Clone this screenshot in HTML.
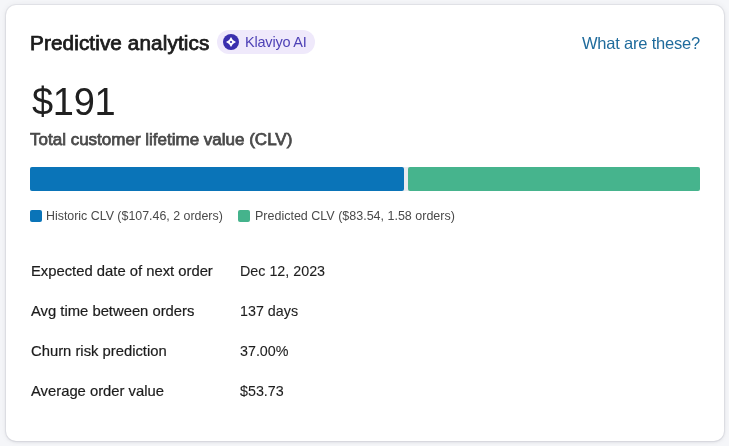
<!DOCTYPE html>
<html><head><meta charset="utf-8">
<style>
*{margin:0;padding:0;box-sizing:border-box}
html,body{width:729px;height:446px;overflow:hidden;background:#f5f6f9;font-family:"Liberation Sans",sans-serif}
.card{position:absolute;left:6px;top:5px;width:718px;height:436px;background:#fff;border-radius:10px;box-shadow:0 0 0 1px rgba(20,25,40,.045),0 1px 3px rgba(20,25,40,.09),0 0 7px rgba(20,25,40,.07)}
.abs{position:absolute;white-space:nowrap;-webkit-font-smoothing:antialiased;will-change:transform}
#title{left:30px;top:31.5px;font-size:19.5px;-webkit-text-stroke:0.75px #1c1c1c;color:#1c1c1c;letter-spacing:0.1px;transform:scaleX(1.062);transform-origin:0 0}
#pill{left:217px;top:30px;width:98px;height:24px;border-radius:12px;background:#efe9fb}
#icon{position:absolute;left:6px;top:4px;width:16px;height:16px}
#pilltxt{position:absolute;left:28px;top:4px;font-size:14.5px;letter-spacing:-0.2px;color:#4e41b6}
#what{left:582px;top:34px;font-size:16.5px;letter-spacing:-0.2px;color:#1f6b9c}
#amount{left:32px;top:81px;font-size:38px;letter-spacing:-0.3px;color:#202020}
#clv{left:30px;top:130px;font-size:17px;-webkit-text-stroke:0.75px #4a4a4a;color:#4a4a4a}
#track{left:30px;top:167px;width:670px;height:24px;background:#eaebee;border-radius:2px}
#bar1{left:30px;top:167px;width:374px;height:24px;background:#0a74b8;border-radius:2px}
#bar2{left:408px;top:167px;width:292px;height:24px;background:#46b48d;border-radius:2px}
#sq1{left:30px;top:210px;width:12px;height:12px;background:#0a74b8;border-radius:2px}
#leg1{left:46px;top:209px;font-size:12.4px;color:#4a4a4a}
#sq2{left:238px;top:210px;width:12px;height:12px;background:#45b38c;border-radius:2px}
#leg2{left:255px;top:209px;font-size:12.5px;color:#4a4a4a}
.lab{left:31px;font-size:14.8px;color:#1c1c1c;-webkit-text-stroke:0.2px #1c1c1c}
.val{left:240px;font-size:14.3px;color:#1f1f1f;-webkit-text-stroke:0.1px #1f1f1f}
</style></head><body>
<div class="card"></div>
<div class="abs" id="title">Predictive analytics</div>
<div class="abs" id="pill">
  <svg id="icon" viewBox="0 0 16 16"><circle cx="8" cy="8" r="8" fill="#3a2fae"/><path d="M8 3 Q9.3 6.7 13 8 Q9.3 9.3 8 13 Q6.7 9.3 3 8 Q6.7 6.7 8 3Z" fill="#fff"/><circle cx="8" cy="8" r="1.1" fill="#3a2fae"/></svg>
  <span id="pilltxt">Klaviyo AI</span>
</div>
<div class="abs" id="what">What are these?</div>
<div class="abs" id="amount">$191</div>
<div class="abs" id="clv">Total customer lifetime value (CLV)</div>
<div class="abs" id="track"></div>
<div class="abs" id="bar1"></div>
<div class="abs" id="bar2"></div>
<div class="abs" id="sq1"></div>
<div class="abs" id="leg1">Historic CLV ($107.46, 2 orders)</div>
<div class="abs" id="sq2"></div>
<div class="abs" id="leg2">Predicted CLV ($83.54, 1.58 orders)</div>
<div class="abs lab" id="l1" style="top:263px">Expected date of next order</div>
<div class="abs val" id="v1" style="top:263px">Dec 12, 2023</div>
<div class="abs lab" id="l2" style="top:303px">Avg time between orders</div>
<div class="abs val" id="v2" style="top:303px">137 days</div>
<div class="abs lab" id="l3" style="top:343px">Churn risk prediction</div>
<div class="abs val" id="v3" style="top:343px">37.00%</div>
<div class="abs lab" id="l4" style="top:383px">Average order value</div>
<div class="abs val" id="v4" style="top:383px">$53.73</div>
</body></html>
